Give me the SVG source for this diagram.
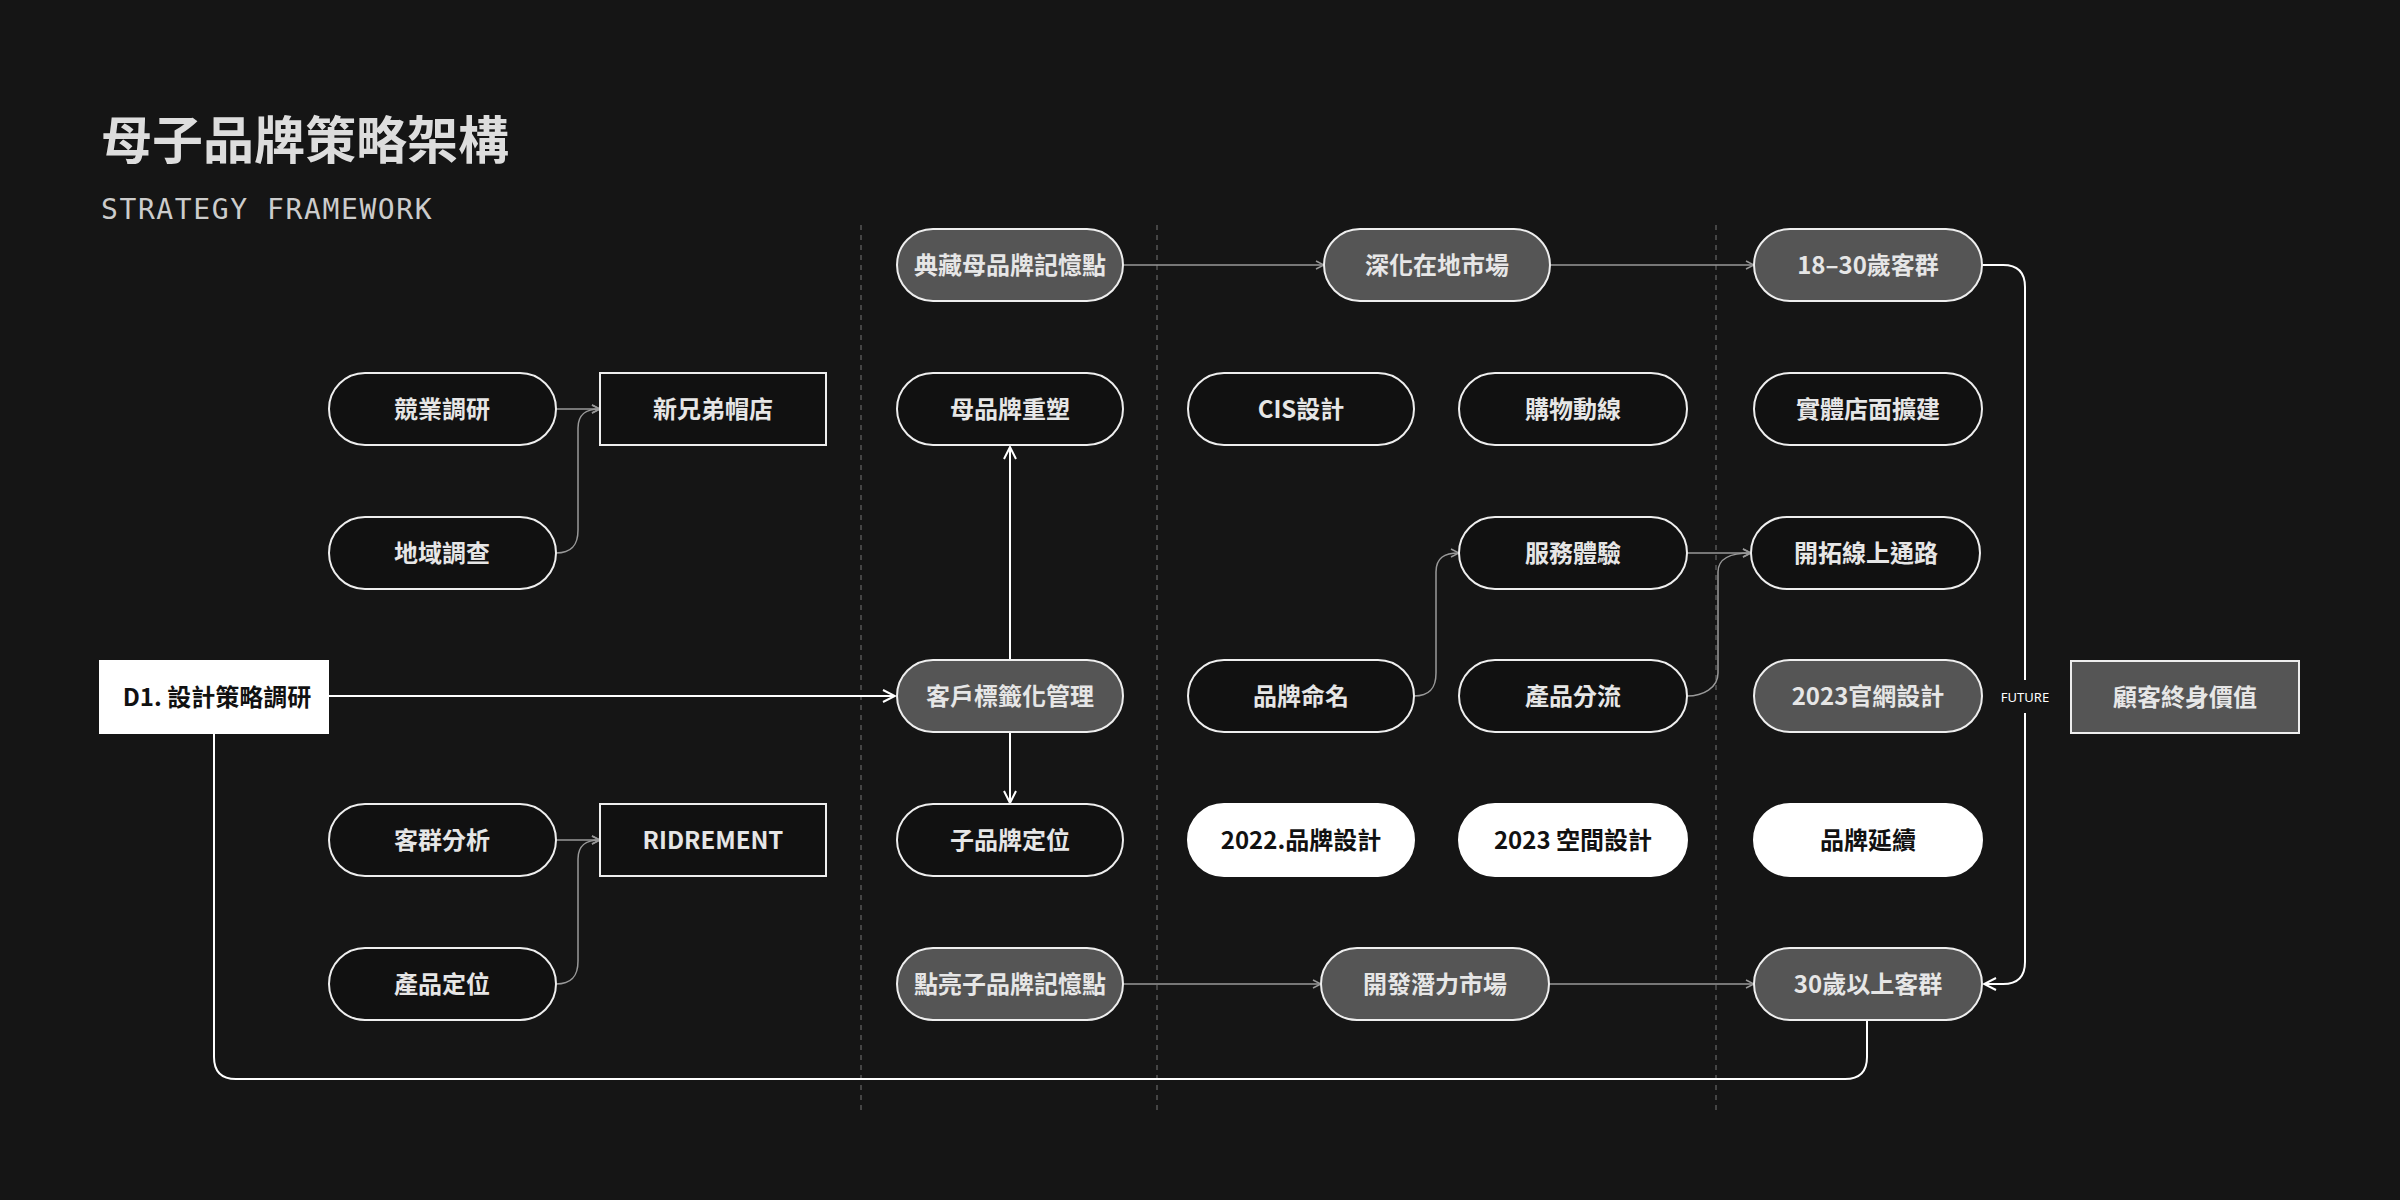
<svg xmlns="http://www.w3.org/2000/svg" width="2400" height="1200" viewBox="0 0 2400 1200">
<defs>
<marker id="ar" viewBox="0 0 10 10" refX="9" refY="5" markerWidth="10" markerHeight="10" markerUnits="userSpaceOnUse" orient="auto"><path d="M1,1 L9,5 L1,9" fill="none" stroke="context-stroke" stroke-width="1.5"/></marker>
<marker id="arw" viewBox="0 0 14 14" refX="13" refY="7" markerWidth="14" markerHeight="14" markerUnits="userSpaceOnUse" orient="auto"><path d="M1,1 L13,7 L1,13" fill="none" stroke="#fff" stroke-width="2"/></marker>
</defs>
<style>
text{font-family:"Noto Sans CJK TC","Noto Sans",sans-serif;font-weight:700;font-size:24px;text-anchor:middle;dominant-baseline:central;fill:#e6e6e6;transform:translateY(-2px)}
.p{fill:#111;stroke:#eee;stroke-width:2}
.g{fill:#555;stroke:#eee;stroke-width:2}
.w{fill:#fff;stroke:#fff;stroke-width:2}
.w+text,.bt{fill:#111}
.c{fill:none;stroke:#999;stroke-width:1.5}
.cw{fill:none;stroke:#fff;stroke-width:2}
.d{stroke:#555;stroke-width:1.5;stroke-dasharray:5 5}
</style>
<rect width="2400" height="1200" fill="#151515"/>
<text x="101" y="139" style="text-anchor:start;font-size:51px;fill:#ddd">母子品牌策略架構</text>
<text x="101" y="211" style="text-anchor:start;font-family:'DejaVu Sans Mono','Liberation Mono',monospace;font-weight:400;font-size:28px;letter-spacing:1.6px;fill:#ccc">STRATEGY FRAMEWORK</text>
<g id="dividers">
<line class="d" x1="861" y1="225" x2="861" y2="1113"/>
<line class="d" x1="1157" y1="225" x2="1157" y2="1113"/>
<line class="d" x1="1716" y1="225" x2="1716" y2="1113"/>
</g>
<g id="connectors">
<path class="c" d="M556,409 H600" marker-end="url(#ar)"/>
<path class="c" d="M556,553 C572,553 578,545 578,530 V428 C578,414 586,409 600,409" marker-end="url(#ar)"/>
<path class="c" d="M556,840 H600" marker-end="url(#ar)"/>
<path class="c" d="M556,984 C572,984 578,976 578,961 V859 C578,845 586,840 600,840" marker-end="url(#ar)"/>
<path class="cw" d="M328,696 H895" marker-end="url(#arw)"/>
<path class="cw" d="M1010,660 V447" marker-end="url(#arw)"/>
<path class="cw" d="M1010,732 V803" marker-end="url(#arw)"/>
<path class="c" d="M1123,265 H1324" marker-end="url(#ar)"/>
<path class="c" d="M1550,265 H1754" marker-end="url(#ar)"/>
<path class="c" d="M1123,984 H1321" marker-end="url(#ar)"/>
<path class="c" d="M1549,984 H1754" marker-end="url(#ar)"/>
<path class="c" d="M1414,696 C1430,696 1436,688 1436,673 V572 C1436,558 1444,553 1459,553" marker-end="url(#ar)"/>
<path class="c" d="M1687,553 H1751" marker-end="url(#ar)"/>
<path class="c" d="M1687,696 C1703,696 1718,688 1718,673 V572 C1718,558 1730,553 1751,553" marker-end="url(#ar)"/>
<path class="cw" d="M1982,265 H2003 Q2025,265 2025,287 V680 M2025,713 V962 Q2025,984 2003,984 H1984" marker-end="url(#arw)"/>
<path class="cw" d="M214,733 V1057 Q214,1079 236,1079 H1845 Q1867,1079 1867,1057 V1020"/>
<text x="2025" y="699" style="font-family:'Noto Sans',sans-serif;font-weight:400;font-size:13px;fill:#fff">FUTURE</text>
</g>
<g id="n1"><rect class="p" x="329" y="373" width="227" height="72" rx="36"/><text x="442" y="409">競業調研</text></g>
<g id="n2"><rect class="p" x="329" y="517" width="227" height="72" rx="36"/><text x="442" y="553">地域調查</text></g>
<g id="n3"><rect class="p" x="329" y="804" width="227" height="72" rx="36"/><text x="442" y="840">客群分析</text></g>
<g id="n4"><rect class="p" x="329" y="948" width="227" height="72" rx="36"/><text x="442" y="984">產品定位</text></g>
<g id="n5"><rect class="p" x="600" y="373" width="226" height="72"/><text x="713" y="409">新兄弟帽店</text></g>
<g id="n6"><rect class="p" x="600" y="804" width="226" height="72"/><text x="713" y="840">RIDREMENT</text></g>
<g id="n7"><rect class="w" x="100" y="661" width="228" height="72"/><text class="bt" x="217" y="697">D1. 設計策略調研</text></g>
<g id="n8"><rect class="g" x="897" y="229" width="226" height="72" rx="36"/><text x="1010" y="265">典藏母品牌記憶點</text></g>
<g id="n9"><rect class="p" x="897" y="373" width="226" height="72" rx="36"/><text x="1010" y="409">母品牌重塑</text></g>
<g id="n10"><rect class="g" x="897" y="660" width="226" height="72" rx="36"/><text x="1010" y="696">客戶標籤化管理</text></g>
<g id="n11"><rect class="p" x="897" y="804" width="226" height="72" rx="36"/><text x="1010" y="840">子品牌定位</text></g>
<g id="n12"><rect class="g" x="897" y="948" width="226" height="72" rx="36"/><text x="1010" y="984">點亮子品牌記憶點</text></g>
<g id="n13"><rect class="g" x="1324" y="229" width="226" height="72" rx="36"/><text x="1437" y="265">深化在地市場</text></g>
<g id="n14"><rect class="g" x="1321" y="948" width="228" height="72" rx="36"/><text x="1435" y="984">開發潛力市場</text></g>
<g id="n15"><rect class="p" x="1188" y="373" width="226" height="72" rx="36"/><text x="1301" y="409">CIS設計</text></g>
<g id="n16"><rect class="p" x="1188" y="660" width="226" height="72" rx="36"/><text x="1301" y="696">品牌命名</text></g>
<g id="n17"><rect class="w" x="1188" y="804" width="226" height="72" rx="36"/><text x="1301" y="840">2022.品牌設計</text></g>
<g id="n18"><rect class="p" x="1459" y="373" width="228" height="72" rx="36"/><text x="1573" y="409">購物動線</text></g>
<g id="n19"><rect class="p" x="1459" y="517" width="228" height="72" rx="36"/><text x="1573" y="553">服務體驗</text></g>
<g id="n20"><rect class="p" x="1459" y="660" width="228" height="72" rx="36"/><text x="1573" y="696">產品分流</text></g>
<g id="n21"><rect class="w" x="1459" y="804" width="228" height="72" rx="36"/><text x="1573" y="840">2023 空間設計</text></g>
<g id="n22"><rect class="g" x="1754" y="229" width="228" height="72" rx="36"/><text x="1868" y="265">18–30歲客群</text></g>
<g id="n23"><rect class="p" x="1754" y="373" width="228" height="72" rx="36"/><text x="1868" y="409">實體店面擴建</text></g>
<g id="n24"><rect class="p" x="1751" y="517" width="229" height="72" rx="36"/><text x="1866" y="553">開拓線上通路</text></g>
<g id="n25"><rect class="g" x="1754" y="660" width="228" height="72" rx="36"/><text x="1868" y="696">2023官網設計</text></g>
<g id="n26"><rect class="w" x="1754" y="804" width="228" height="72" rx="36"/><text x="1868" y="840">品牌延續</text></g>
<g id="n27"><rect class="g" x="1754" y="948" width="228" height="72" rx="36"/><text x="1868" y="984">30歲以上客群</text></g>
<g id="n28"><rect class="g" x="2071" y="661" width="228" height="72"/><text x="2185" y="697">顧客終身價值</text></g>
</svg>
